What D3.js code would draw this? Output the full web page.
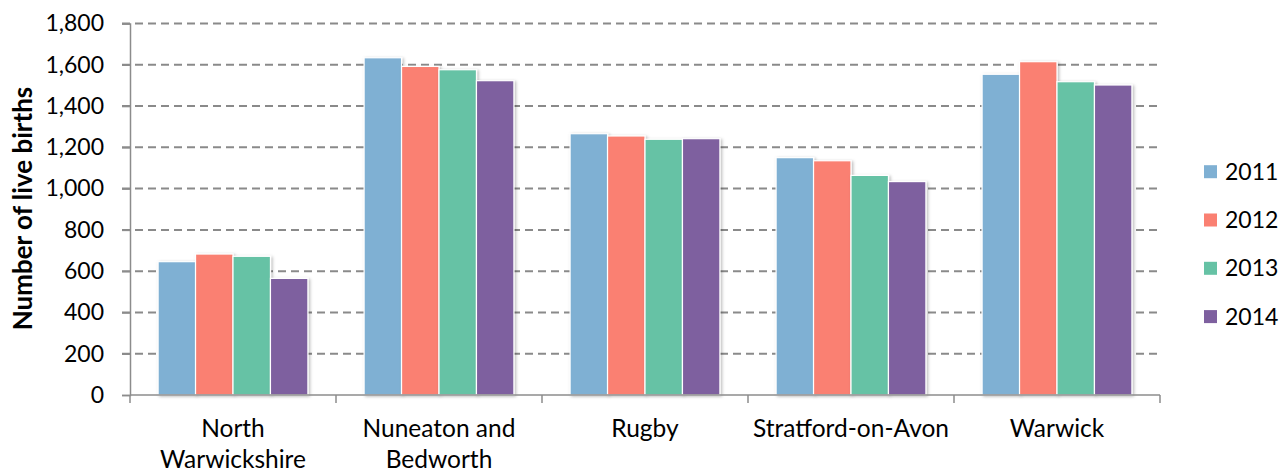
<!DOCTYPE html>
<html>
<head>
<meta charset="utf-8">
<script src="https://cdn.jsdelivr.net/npm/d3@7"></script>
<style>
  html, body { margin: 0; padding: 0; background: #fff; }
  svg { display: block; font-family: Lato, "Open Sans", sans-serif; }
</style>
</head>
<body>
<svg id="chart" width="1281" height="472"></svg>
<script>
// Live births by district, 2011-2014
const districts = ["North Warwickshire", "Nuneaton and Bedworth", "Rugby", "Stratford-on-Avon", "Warwick"];
const districtLines = [["North", "Warwickshire"], ["Nuneaton and", "Bedworth"], ["Rugby"], ["Stratford-on-Avon"], ["Warwick"]];
const years = ["2011", "2012", "2013", "2014"];
const births2011 = [646, 1634, 1266, 1150, 1554];
const births2012 = [683, 1592, 1255, 1135, 1615];
const births2013 = [672, 1576, 1239, 1064, 1518];
const births2014 = [565, 1523, 1242, 1034, 1502];
const yTicks = [0, 200, 400, 600, 800, 1000, 1200, 1400, 1600, 1800];
const yearColors = ["#7fb0d3", "#fa8072", "#66c2a5", "#7e609f"];

const series = [births2011, births2012, births2013, births2014];

const svg = d3.select("#chart");
const plotLeft = 130, plotRight = 1160, plotTop = 23.5, plotBottom = 395;

const x = d3.scaleBand().domain(districts).range([plotLeft, plotRight]).paddingInner(0).paddingOuter(0);
const xInner = d3.scaleBand().domain(years).range([0, x.bandwidth()]).paddingInner(0).paddingOuter(0.75);
const y = d3.scaleLinear().domain([0, 1800]).range([plotBottom, plotTop]);

// soft shadow behind bars
const defs = svg.append("defs");
const f = defs.append("filter").attr("id", "shadow").attr("x", "-20%").attr("y", "-20%").attr("width", "140%").attr("height", "140%");
f.append("feDropShadow").attr("dx", 1.5).attr("dy", 1).attr("stdDeviation", 1.6).attr("flood-color", "#000").attr("flood-opacity", 0.28);

// gridlines
const grid = svg.append("g");
grid.selectAll("line").data(yTicks.filter(d => d > 0)).join("line")
  .attr("x1", plotLeft - 8).attr("x2", plotRight)
  .attr("y1", d => y(d)).attr("y2", d => y(d))
  .attr("stroke", "#8a8a8a").attr("stroke-width", 2)
  .attr("stroke-dasharray", "8,5");

// y axis
const yAxis = svg.append("g").attr("transform", `translate(${plotLeft},0)`)
  .call(d3.axisLeft(y).tickValues(yTicks).tickSize(8).tickPadding(18).tickFormat(d3.format(",")));
yAxis.select(".domain").attr("stroke", "#8c8c8c").attr("stroke-width", 1.5);
yAxis.selectAll(".tick line").attr("stroke", "#8c8c8c").attr("stroke-width", 1.5);
yAxis.selectAll(".tick text").attr("font-size", 23).attr("fill", "#000").attr("font-family", "Lato");

// bars
const groups = svg.append("g").selectAll("g").data(districts).join("g")
  .attr("transform", d => `translate(${x(d)},0)`);
groups.selectAll("rect").data((d, i) => years.map((yr, j) => ({ yr, v: series[j][i], j })))
  .join("rect")
  .attr("x", d => xInner(d.yr))
  .attr("width", xInner.bandwidth())
  .attr("y", d => y(d.v))
  .attr("height", d => y(0) - y(d.v))
  .attr("fill", d => yearColors[d.j])
  .attr("stroke", "#fff").attr("stroke-width", 1.2)
  .attr("filter", "url(#shadow)");

// x axis
const xAxisG = svg.append("g");
xAxisG.append("line").attr("x1", plotLeft).attr("x2", plotRight).attr("y1", plotBottom).attr("y2", plotBottom)
  .attr("stroke", "#8c8c8c").attr("stroke-width", 1.5);
const boundaries = districts.map(d => x(d)).concat([plotRight]);
xAxisG.selectAll("line.tick").data(boundaries).join("line").attr("class", "tick")
  .attr("x1", d => d).attr("x2", d => d).attr("y1", plotBottom).attr("y2", plotBottom + 8)
  .attr("stroke", "#8c8c8c").attr("stroke-width", 1.5);

const labels = svg.append("g").selectAll("text").data(districts).join("text")
  .attr("x", d => x(d) + x.bandwidth() / 2)
  .attr("y", 437)
  .attr("text-anchor", "middle").attr("font-size", 24.5).attr("fill", "#000");
labels.each(function(d, i) {
  const t = d3.select(this);
  districtLines[i].forEach((line, k) => {
    t.append("tspan").attr("x", x(d) + x.bandwidth() / 2).attr("dy", k === 0 ? 0 : 31).text(line);
  });
});

// y axis title
svg.append("text")
  .attr("transform", `translate(32,208.5) rotate(-90)`)
  .attr("text-anchor", "middle").attr("font-size", 26).attr("font-weight", "bold").attr("fill", "#000")
  .text("Number of live births");

// legend
const legend = svg.append("g").selectAll("g").data(years).join("g")
  .attr("transform", (d, i) => `translate(1204,${171.7 + i * 48.3})`);
legend.append("rect").attr("x", 0).attr("y", -6.5).attr("width", 13).attr("height", 13)
  .attr("fill", (d, i) => yearColors[i]);
legend.append("text").attr("x", 21).attr("y", 8).attr("font-size", 23).attr("fill", "#000").text(d => d);
</script>
</body>
</html>
